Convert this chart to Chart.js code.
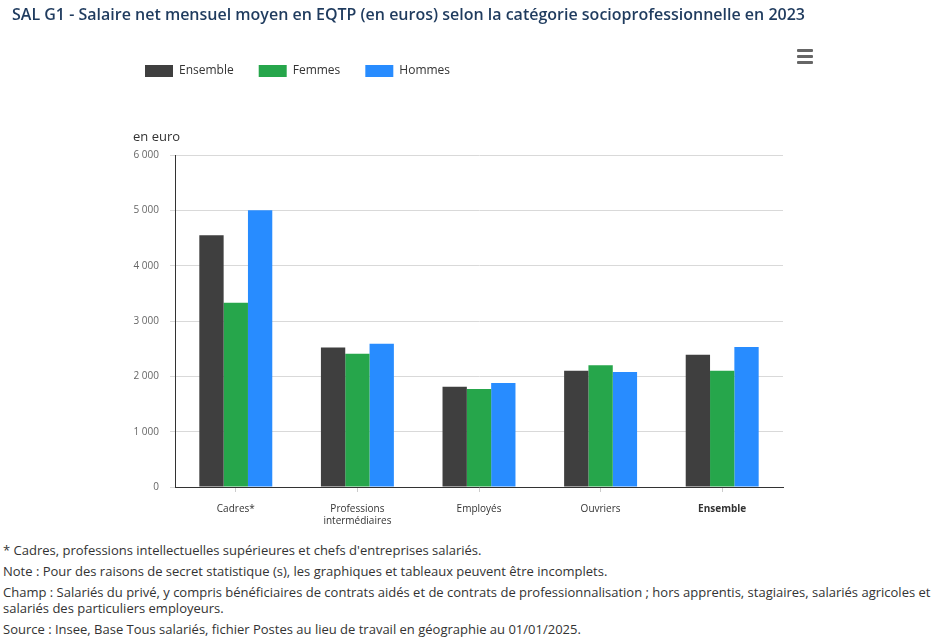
<!DOCTYPE html>
<html lang="fr">
<head>
<meta charset="utf-8">
<script src="https://cdn.jsdelivr.net/npm/chart.js@4"></script>
<style>
  html, body { margin: 0; padding: 0; background: #fff; }
  body { width: 932px; height: 641px; position: relative; overflow: hidden; font-family: "Open Sans", sans-serif; }
  #titre { position: absolute; left: 12px; top: 3px; font-size: 16px; font-weight: 600; color: #1f3b5e; z-index: 2; white-space: nowrap; }
  #graph { position: absolute; left: 120px; top: 0; width: 700px; height: 535px; }
  #menu { position: absolute; left: 797px; top: 49px; width: 16px; z-index: 2; }
  #menu div { height: 3px; background: #666; margin-bottom: 3px; border-radius: 1px; }
  #notes { position: absolute; left: 3px; top: 542px; width: 928px; font-size: 13px; color: #333; line-height: 16px; }
  #notes p { margin: 0 0 5px 0; }
</style>
</head>
<body>
<div id="titre">SAL G1 - Salaire net mensuel moyen en EQTP (en euros) selon la catégorie socioprofessionnelle en 2023</div>
<div id="menu"><div></div><div></div><div></div></div>
<div id="graph"><canvas id="sal-bar-chart"></canvas></div>
<div id="notes">
  <p>* Cadres, professions intellectuelles supérieures et chefs d'entreprises salariés.</p>
  <p>Note : Pour des raisons de secret statistique (s), les graphiques et tableaux peuvent être incomplets.</p>
  <p>Champ : Salariés du privé, y compris bénéficiaires de contrats aidés et de contrats de professionnalisation ; hors apprentis, stagiaires, salariés agricoles et salariés des particuliers employeurs.</p>
  <p>Source : Insee, Base Tous salariés, fichier Postes au lieu de travail en géographie au 01/01/2025.</p>
</div>
<script>
var categories = ['Cadres*', ['Professions', 'intermédiaires'], 'Employés', 'Ouvriers', 'Ensemble'];
var ensemble = [4550, 2520, 1810, 2100, 2390];
var femmes = [3330, 2410, 1770, 2200, 2100];
var hommes = [5000, 2590, 1880, 2080, 2530];
var yTicks = [0, 1000, 2000, 3000, 4000, 5000, 6000];

function milliers(v) {
    return String(v).replace(/\B(?=(\d{3})+(?!\d))/g, ' ');
}

// legende : hauteur fixe pour caler la zone du graphique
var legendHeight = {
    id: 'legendHeight',
    beforeInit: function (chart) {
        var fit = chart.legend.fit;
        chart.legend.fit = function () {
            fit.bind(chart.legend)();
            this.height = 115;
        };
    }
};

// "en euro" au-dessus de l'axe
var uniteAxe = {
    id: 'uniteAxe',
    afterDraw: function (chart) {
        var ctx = chart.ctx;
        var area = chart.chartArea;
        ctx.save();
        ctx.font = '13px "Open Sans"';
        ctx.fillStyle = '#333';
        ctx.textAlign = 'left';
        ctx.textBaseline = 'middle';
        ctx.fillText('en euro', area.left - 42, area.top - 18);
        ctx.restore();
    }
};

var data = {
    labels: categories,
    datasets: [
        { label: 'Ensemble', data: ensemble, backgroundColor: '#3f3f3f' },
        { label: 'Femmes', data: femmes, backgroundColor: '#26a64b' },
        { label: 'Hommes', data: hommes, backgroundColor: '#288cff' },
    ]
};

var layout = {
    type: 'bar',
    data: data,
    options: {
        responsive: true,
        maintainAspectRatio: false,
        animation: false,
        categoryPercentage: 0.6,
        barPercentage: 1,
        layout: {
            padding: { top: 40, right: 37, left: 0, bottom: 0 }
        },
        plugins: {
            legend: {
                align: 'start',
                labels: {
                    boxWidth: 28,
                    boxHeight: 12,
                    padding: 25,
                    color: '#333',
                    font: { family: 'Open Sans', size: 12 }
                }
            },
            tooltip: { enabled: false }
        },
        scales: {
            x: {
                grid: {
                    offset: false,
                    drawOnChartArea: false,
                    tickLength: 5,
                    color: '#ccc'
                },
                border: { color: '#333' },
                ticks: {
                    padding: 11,
                    color: '#333',
                    font: function (c) {
                        return { family: 'Open Sans', size: 10, weight: c.index === 4 ? 'bold' : 'normal' };
                    }
                },
                afterFit: function (scale) { scale.height = 48; }
            },
            y: {
                min: 0,
                max: 6000,
                afterBuildTicks: function (scale) {
                    scale.ticks = yTicks.map(function (v) { return { value: v }; });
                },
                grid: {
                    color: '#d9d9d9',
                    tickLength: 5
                },
                border: { display: true, color: '#333' },
                ticks: {
                    padding: 11,
                    color: '#666',
                    font: { family: 'Open Sans', size: 10 },
                    callback: function (v) { return milliers(v); }
                },
                afterFit: function (scale) { scale.width = 55; }
            }
        }
    },
    plugins: [legendHeight, uniteAxe]
};

var salBar = document.getElementById('sal-bar-chart');
new Chart(salBar, layout);
</script>
</body>
</html>
